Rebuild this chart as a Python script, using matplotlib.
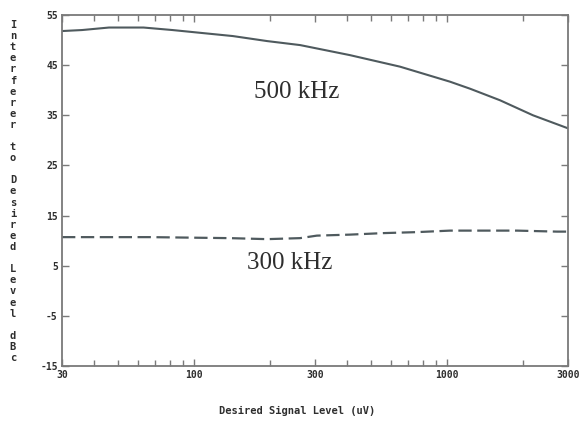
import numpy as np
import matplotlib
matplotlib.use("Agg")
import matplotlib.pyplot as plt
from matplotlib.ticker import FixedLocator, NullFormatter, LogLocator

plt.rcParams["axes.unicode_minus"] = False

# data (x in uV, y in dBc)
X_500 = [30, 36, 46, 63, 82, 103, 142, 166, 194, 262, 412, 650, 1025, 1230, 1615, 2181, 3000]
Y_500 = [51.8, 52.0, 52.5, 52.5, 52.0, 51.5, 50.8, 50.3, 49.8, 49.0, 47.0, 44.7, 41.7, 40.3, 38.0, 35.0, 32.4]

X_300 = [30, 67, 138, 194, 262, 305, 412, 557, 759, 1025, 1886, 2714, 3000]
Y_300 = [10.7, 10.7, 10.5, 10.3, 10.5, 11.0, 11.2, 11.5, 11.7, 12.0, 12.0, 11.8, 11.8]

X_TICKS = [30, 100, 300, 1000, 3000]
X_TICKLABELS = ["30", "100", "300", "1000", "3000"]
Y_TICKS = [55, 45, 35, 25, 15, 5, -5, -15]

YLABEL = "Interferer to Desired Level dBc"
XLABEL = "Desired Signal Level (uV)"

LINE_C = "#4f5a5e"
AX_C = "#7a7a7a"
TXT_C = "#2e2e2e"
TICK_FONT = "DejaVu Sans Mono"

W, H = 579, 422
fig = plt.figure(figsize=(W / 100, H / 100), dpi=100)
ax = fig.add_axes([62 / W, 1 - 366 / H, (568 - 62) / W, (366 - 15) / H])

ax.plot(X_500, Y_500, color=LINE_C, lw=1.5)
ax.plot(X_300, Y_300, color=LINE_C, lw=1.6, dashes=(6, 2.5))

ax.set_xscale("log")
ax.set_xlim(30, 3000)
ax.set_ylim(-15, 55)

ax.xaxis.set_major_locator(FixedLocator(X_TICKS))
ax.set_xticklabels(X_TICKLABELS)
ax.xaxis.set_minor_locator(LogLocator(base=10, subs=np.arange(2, 10)))
ax.xaxis.set_minor_formatter(NullFormatter())
ax.set_yticks(Y_TICKS)

ax.tick_params(which="both", direction="in", top=True, right=True,
               color=AX_C, width=1.0)
ax.tick_params(which="major", length=5)
ax.tick_params(which="minor", length=4)
ax.tick_params(axis="x", pad=3)
ax.tick_params(axis="y", pad=3)
for lab in ax.get_xticklabels() + ax.get_yticklabels():
    lab.set_fontfamily(TICK_FONT)
    lab.set_fontweight("bold")
    lab.set_fontsize(7)
    lab.set_color(TXT_C)

for sp in ax.spines.values():
    sp.set_color(AX_C)
    sp.set_linewidth(1.3)

# curve labels
fig.text(297 / W, 1 - 92 / H, "500 kHz", family="Liberation Serif",
         fontsize=18, color=TXT_C, ha="center", va="center")
fig.text(290 / W, 1 - 263 / H, "300 kHz", family="Liberation Serif",
         fontsize=18, color=TXT_C, ha="center", va="center")

# x label
fig.text(297 / W, 1 - 411 / H, XLABEL, family=TICK_FONT, fontweight="bold",
         fontsize=7.5, color=TXT_C, ha="center", va="center")

# y label: stacked upright characters
y0, step = 25, 11.1
for i, ch in enumerate(YLABEL):
    if ch == " ":
        continue
    fig.text(13 / W, 1 - (y0 + i * step) / H, ch, family=TICK_FONT,
             fontweight="bold", fontsize=7.5, color=TXT_C,
             ha="center", va="center")

fig.savefig("out.png", dpi=100)
